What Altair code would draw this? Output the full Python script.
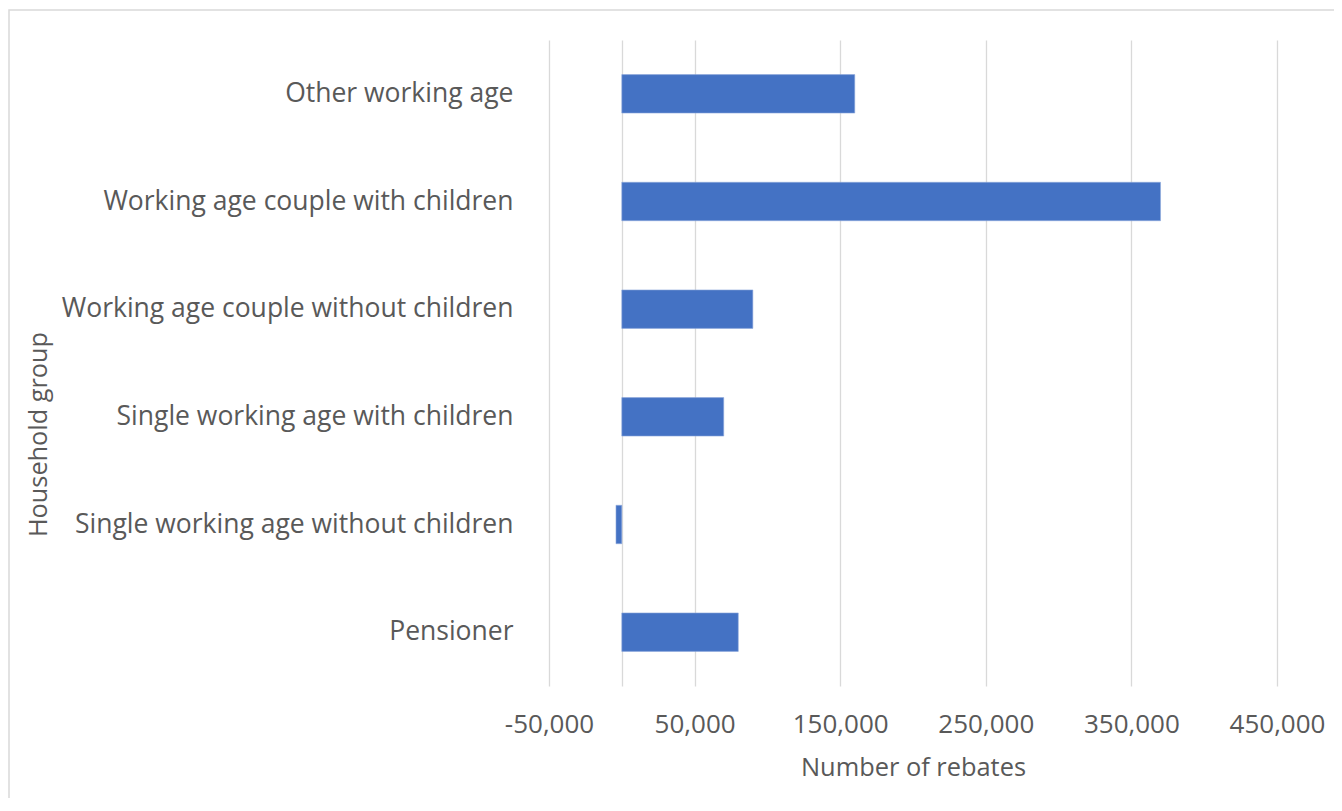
import altair as alt
import pandas as pd

groups = [
    "Other working age",
    "Working age couple with children",
    "Working age couple without children",
    "Single working age with children",
    "Single working age without children",
    "Pensioner",
]
rebates = [160000, 370000, 90000, 70000, -4000, 80000]

df = pd.DataFrame({"group": groups, "rebates": rebates})

FONT = "Open Sans"
TXT = "#595959"
GRID = "#D9D9D9"

W, H = 728, 646

bars = alt.Chart(df).mark_bar(color="#4472C4", stroke="#8FAADC", strokeWidth=0.6).encode(
    y=alt.Y(
        "group:N",
        sort=groups,
        scale=alt.Scale(paddingInner=0.643, paddingOuter=0.3215),
        axis=alt.Axis(
            title="Household group",
            labelFont=FONT, labelFontSize=26.5, labelColor=TXT,
            labelPadding=36, ticks=False, domain=False, grid=False,
            labelLimit=600,
            titleFont=FONT, titleFontSize=25.3, titleColor=TXT, titleFontWeight="normal",
            titleX=-511, titleY=394, titleAngle=270, titleAlign="center",
            titleBaseline="middle",
        ),
    ),
    x=alt.X(
        "rebates:Q",
        scale=alt.Scale(domain=[-50000, 450000], nice=False, zero=False),
        axis=alt.Axis(
            title="Number of rebates",
            values=[-50000, 0, 50000, 150000, 250000, 350000, 450000],
            labelExpr="datum.value == 0 ? '' : replace(format(datum.value, ','), '\u2212', '-')",
            labelFont=FONT, labelFontSize=26, labelColor=TXT, labelPadding=25,
            labelFlush=False, labelOverlap=False,
            ticks=False, domain=False, grid=True, gridColor=GRID, gridWidth=1.3,
            titleFont=FONT, titleFontSize=25.4, titleColor=TXT, titleFontWeight="normal",
            titlePadding=18,
        ),
    ),
)

frame = alt.Chart(df).mark_rect(fill=None, stroke=GRID, strokeWidth=1.5).encode(
    x=alt.value(-540), x2=alt.value(1000), y=alt.value(-30), y2=alt.value(1000)
).transform_filter("datum.group == 'Pensioner'")

chart = alt.layer(frame, bars).properties(
    width=W, height=H,
    autosize=alt.AutoSizeParams(type="none"),
    padding={"left": 541, "top": 32, "right": 57, "bottom": 112},
).configure_view(stroke=None)

chart.save("out.html", embed_options={"renderer": "svg", "actions": False})
